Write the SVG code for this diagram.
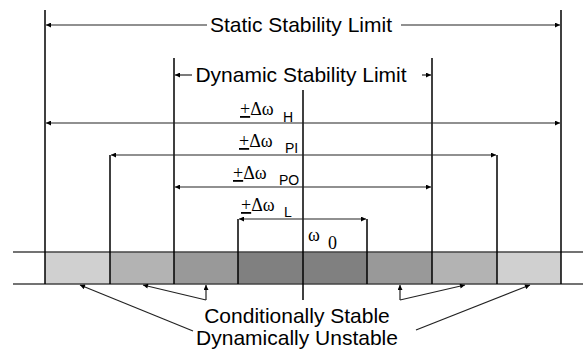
<svg xmlns="http://www.w3.org/2000/svg" width="583" height="353" viewBox="0 0 583 353">
<defs>
<style>
.v{stroke:#000;stroke-width:1.5;fill:none}
.h{stroke:#444;stroke-width:1.5;fill:none}
.a{stroke:#222;stroke-width:1.2;fill:none;marker-end:url(#ah)}
.big{font-family:"Liberation Sans",Arial,sans-serif;font-size:21px;fill:#000;text-anchor:middle}
.sym{font-family:"Liberation Serif","Times New Roman",serif;font-size:18px;fill:#000}
.sub{font-family:"Liberation Sans",Arial,sans-serif;font-size:14px;fill:#000}
</style>
<marker id="ah" viewBox="0 0 10 10" refX="10" refY="5" markerWidth="6" markerHeight="5" markerUnits="userSpaceOnUse" orient="auto">
<path d="M0,0 L10,5 L0,10 z" fill="#000"/>
</marker>
</defs>
<g id="band">
<rect x="45" y="252" width="65" height="32" fill="#d0d0d0"/>
<rect x="110" y="252" width="64" height="32" fill="#b3b3b3"/>
<rect x="174" y="252" width="64" height="32" fill="#999"/>
<rect x="238" y="252" width="129" height="32" fill="#808080"/>
<rect x="367" y="252" width="65" height="32" fill="#999"/>
<rect x="432" y="252" width="65" height="32" fill="#b3b3b3"/>
<rect x="497" y="252" width="64" height="32" fill="#d0d0d0"/>
<line class="h" x1="13" y1="252" x2="583" y2="252"/>
<line class="h" x1="13" y1="284" x2="583" y2="284"/>
</g>
<g id="verticals">
<line class="v" x1="45" y1="10" x2="45" y2="284"/>
<line class="v" x1="561" y1="10" x2="561" y2="284"/>
<line class="v" x1="174" y1="58" x2="174" y2="284"/>
<line class="v" x1="432" y1="58" x2="432" y2="284"/>
<line class="v" x1="110" y1="155" x2="110" y2="284"/>
<line class="v" x1="497" y1="155" x2="497" y2="284"/>
<line class="v" x1="238" y1="219" x2="238" y2="284"/>
<line class="v" x1="367" y1="219" x2="367" y2="284"/>
<line class="v" x1="303" y1="90" x2="303" y2="300"/>
</g>
<g id="static-limit">
<text class="big" x="301" y="32">Static Stability Limit</text>
</g>
<g id="dynamic-limit">
<text class="big" x="301" y="82">Dynamic Stability Limit</text>
</g>
<g id="dw-H">
<text x="240" y="115"><tspan class="sym" text-decoration="underline">+</tspan><tspan class="sym">Δω</tspan></text>
<text class="sub" x="283" y="122">H</text>
</g>
<g id="dw-PI">
<text x="239" y="147"><tspan class="sym" text-decoration="underline">+</tspan><tspan class="sym">Δω</tspan></text>
<text class="sub" x="285" y="153">PI</text>
</g>
<g id="dw-PO">
<text x="233" y="179"><tspan class="sym" text-decoration="underline">+</tspan><tspan class="sym">Δω</tspan></text>
<text class="sub" x="279" y="185">PO</text>
</g>
<g id="dw-L">
<text x="241" y="211"><tspan class="sym" text-decoration="underline">+</tspan><tspan class="sym">Δω</tspan></text>
<text class="sub" x="284" y="217">L</text>
</g>
<g id="omega0">
<text class="sym" x="308" y="241">ω</text>
<text class="sym" x="328" y="249" font-size="12">0</text>
</g>
<g id="caption">
<text class="big" x="297" y="323">Conditionally Stable</text>
<text class="big" x="297" y="345">Dynamically Unstable</text>
</g>
<g id="connectors">
<line class="a" x1="207" y1="25" x2="46" y2="25"/>
<line class="a" x1="401" y1="25" x2="560" y2="25"/>
<line class="a" x1="192" y1="75" x2="175" y2="75"/>
<line class="a" x1="422" y1="75" x2="431" y2="75"/>
<line class="a" x1="303" y1="123" x2="46" y2="123"/>
<line class="a" x1="303" y1="123" x2="560" y2="123"/>
<line class="a" x1="303" y1="155" x2="111" y2="155"/>
<line class="a" x1="303" y1="155" x2="496" y2="155"/>
<line class="a" x1="303" y1="187" x2="175" y2="187"/>
<line class="a" x1="303" y1="187" x2="431" y2="187"/>
<line class="a" x1="303" y1="219" x2="239" y2="219"/>
<line class="a" x1="303" y1="219" x2="366" y2="219"/>
<line class="a" x1="193" y1="331" x2="80" y2="285"/>
<line class="a" x1="206" y1="300" x2="143" y2="285"/>
<line class="a" x1="206" y1="300" x2="206" y2="285"/>
<line class="a" x1="400" y1="300" x2="465" y2="285"/>
<line class="a" x1="400" y1="300" x2="400" y2="285"/>
<line class="a" x1="416" y1="330" x2="530" y2="285"/>
</g>
</svg>
